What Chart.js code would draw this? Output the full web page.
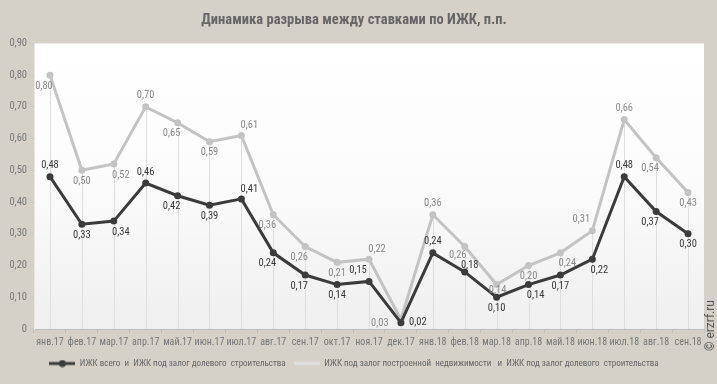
<!DOCTYPE html>
<html>
<head>
<meta charset="utf-8">
<script src="https://cdn.jsdelivr.net/npm/chart.js@4"></script>
<style>
  html, body { margin: 0; padding: 0; background: #d5d1c9; }
  #wrap { position: relative; width: 717px; height: 384px; }
  #mark { position: absolute; left: 703px; top: 351px; transform: rotate(-90deg); transform-origin: 0 0;
          font: 12px Roboto, sans-serif; color: #555; white-space: nowrap; }
</style>
</head>
<body>
<div id="wrap">
  <canvas id="gapChart" width="717" height="384"></canvas>
  <div id="mark">© erzrf.ru</div>
</div>
<script>
var months = ["янв.17", "фев.17", "мар.17", "апр.17", "май.17", "июн.17", "июл.17", "авг.17", "сен.17", "окт.17", "ноя.17", "дек.17",
              "янв.18", "фев.18", "мар.18", "апр.18", "май.18", "июн.18", "июл.18", "авг.18", "сен.18"];

var gapTotal = [0.48, 0.33, 0.34, 0.46, 0.42, 0.39, 0.41, 0.24, 0.17, 0.14, 0.15, 0.02,
                0.24, 0.18, 0.10, 0.14, 0.17, 0.22, 0.48, 0.37, 0.30];

var gapBuilt = [0.80, 0.50, 0.52, 0.70, 0.65, 0.59, 0.61, 0.36, 0.26, 0.21, 0.22, 0.03,
                0.36, 0.26, 0.14, 0.20, 0.24, 0.31, 0.66, 0.54, 0.43];

var yTicks = [0, 0.1, 0.2, 0.3, 0.4, 0.5, 0.6, 0.7, 0.8, 0.9];

// where each value label sits relative to its point
var totalLabelPos = ['a', 'b', 'br', 'a', 'bl', 'b', 'ar', 'bl', 'bl', 'b', 'al', 'r',
                     'a', 'as', 'b', 'br', 'b', 'br', 'a', 'bl', 'b'];
var builtLabelPos = ['bl', 'b', 'br', 'a', 'bl', 'b', 'ar', 'bl', 'bl', 'b', 'ar', 'l',
                     'a', 'bs', 'bn', 'b', 'br', 'al', 'a', 'bl', 'b'];

var offsets = {
    a: [0, -11], b: [0, 11], bl: [-6, 11], br: [7, 11],
    ar: [8, -10], al: [-11, -11], l: [-21, 4], r: [17, 0],
    as: [5, -7], bs: [-7, 9], bn: [1, 6]
};

var cond = "'Roboto Condensed', Roboto, sans-serif";

function fmt(v) {
    return v === 0 ? '0' : v.toFixed(2).replace('.', ',');
}

function legendIcon(color, dot) {
    var c = document.createElement('canvas');
    c.width = 26; c.height = 8;
    var g = c.getContext('2d');
    g.strokeStyle = color;
    g.lineWidth = 3;
    g.beginPath(); g.moveTo(0, 4); g.lineTo(26, 4); g.stroke();
    if (dot) {
        g.fillStyle = color;
        g.beginPath(); g.arc(13, 4, 3.5, 0, Math.PI * 2); g.fill();
    }
    return c;
}
var icons = [legendIcon('#3b3b3b', true), legendIcon('#e2e2e2', false)];

var plotBack = {
    id: 'plotBack',
    beforeDraw: function (chart) {
        var a = chart.chartArea, ctx = chart.ctx;
        var grad = ctx.createLinearGradient(0, a.top, 0, a.bottom);
        grad.addColorStop(0, '#ffffff');
        grad.addColorStop(0.5, '#fbfbfb');
        grad.addColorStop(1, '#efefef');
        ctx.save();
        ctx.fillStyle = grad;
        ctx.fillRect(a.left, a.top, a.right - a.left, a.bottom - a.top);
        ctx.restore();
    }
};

var dropLines = {
    id: 'dropLines',
    beforeDatasetsDraw: function (chart) {
        var ctx = chart.ctx, a = chart.chartArea;
        var y = chart.scales.y;
        var x = chart.scales.x;
        ctx.save();
        ctx.strokeStyle = '#dedede';
        ctx.lineWidth = 1;
        for (var i = 0; i < months.length; i++) {
            var px = Math.round(x.getPixelForValue(i)) + 0.5;
            var top = y.getPixelForValue(Math.max(gapTotal[i], gapBuilt[i]));
            ctx.beginPath(); ctx.moveTo(px, top); ctx.lineTo(px, a.bottom); ctx.stroke();
        }
        ctx.restore();
    }
};

var valueLabels = {
    id: 'valueLabels',
    afterDatasetsDraw: function (chart) {
        var ctx = chart.ctx;
        var sets = [[0, totalLabelPos, '#3a3a3a'], [1, builtLabelPos, '#8a8a8a']];
        ctx.save();
        ctx.font = '10.5px ' + cond;
        ctx.textAlign = 'center';
        ctx.textBaseline = 'middle';
        sets.forEach(function (s) {
            var meta = chart.getDatasetMeta(s[0]);
            var data = chart.data.datasets[s[0]].data;
            ctx.fillStyle = s[2];
            meta.data.forEach(function (pt, i) {
                var o = offsets[s[1][i]];
                ctx.fillText(fmt(data[i]), pt.x + o[0], pt.y + o[1]);
            });
        });
        ctx.restore();
    }
};

var ctx = document.getElementById("gapChart").getContext("2d");
new Chart(ctx, {
    type: 'line',
    data: {
        labels: months,
        datasets: [
            {
                label: "ИЖК всего  и  ИЖК под залог долевого  строительства",
                data: gapTotal,
                borderColor: '#3b3b3b',
                backgroundColor: '#3b3b3b',
                borderWidth: 3,
                pointRadius: 3.5,
                pointBorderWidth: 0,
                tension: 0,
                order: 0
            },
            {
                label: "ИЖК под залог построенной  недвижимости   и  ИЖК под залог долевого  строительства",
                data: gapBuilt,
                borderColor: '#c3c3c3',
                backgroundColor: '#c3c3c3',
                borderWidth: 3,
                pointRadius: 3.5,
                pointBorderWidth: 0,
                tension: 0,
                order: 1
            }
        ]
    },
    options: {
        responsive: false,
        animation: false,
        layout: { padding: { left: 4, right: 13, top: 0, bottom: 6 } },
        plugins: {
            title: {
                display: true,
                text: 'Динамика разрыва между ставками по ИЖК, п.п.',
                color: '#666',
                font: { family: cond, size: 14.5, weight: 'bold' },
                padding: { top: 12, bottom: 14 }
            },
            legend: {
                position: 'bottom',
                labels: {
                    usePointStyle: true,
                    pointStyleWidth: 26,
                    color: '#666',
                    font: { family: cond, size: 9 },
                    padding: 8,
                    generateLabels: function (chart) {
                        var items = Chart.defaults.plugins.legend.labels.generateLabels(chart);
                        items.forEach(function (it, i) { it.pointStyle = icons[i]; });
                        return items;
                    }
                }
            },
            tooltip: { enabled: false }
        },
        scales: {
            x: {
                offset: true,
                grid: { drawOnChartArea: false, drawTicks: true, tickLength: 4, color: '#bdbdbd', offset: true },
                border: { color: '#bdbdbd' },
                ticks: { color: '#777', font: { family: cond, size: 10 }, padding: 3, maxRotation: 0, autoSkip: false }
            },
            y: {
                min: 0,
                max: 0.9,
                afterBuildTicks: function (axis) {
                    axis.ticks = yTicks.map(function (v) { return { value: v }; });
                },
                afterFit: function (axis) { axis.width = 30; },
                grid: { drawOnChartArea: false, drawTicks: true, tickLength: 3, color: '#c8c8c8' },
                border: { color: '#e6e6e6' },
                ticks: {
                    color: '#777',
                    font: { family: cond, size: 10.5 },
                    padding: 4,
                    callback: function (v) { return fmt(v); }
                }
            }
        }
    },
    plugins: [plotBack, dropLines, valueLabels]
});
</script>
</body>
</html>
